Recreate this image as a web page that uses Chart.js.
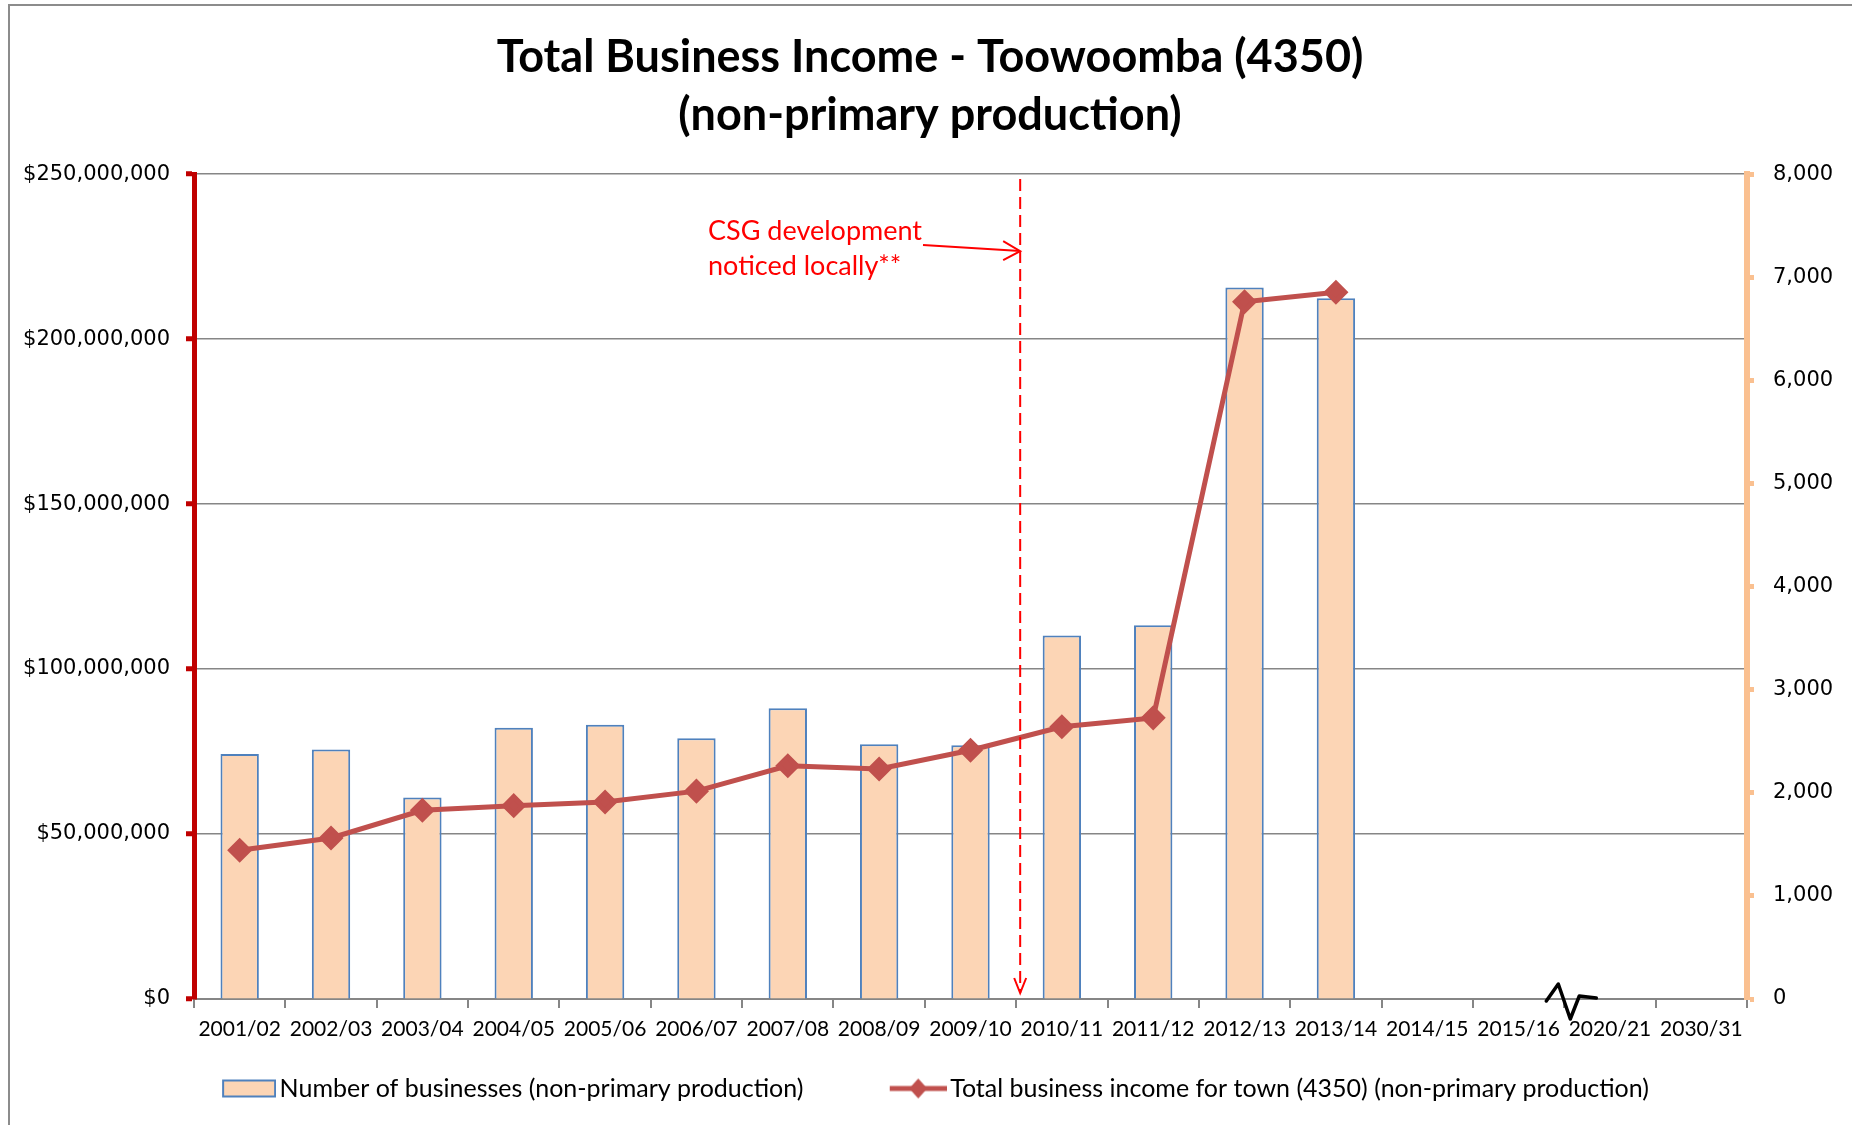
<!DOCTYPE html>
<html>
<head>
<meta charset="utf-8">
<title>Total Business Income - Toowoomba (4350)</title>
<script src="https://cdn.jsdelivr.net/npm/chart.js@4"></script>
<style>
  html, body { margin: 0; padding: 0; background: #fff; }
  #wrap { width: 1852px; height: 1125px; }
</style>
</head>
<body>
<div id="wrap"><canvas id="chart"></canvas></div>
<script>
const years = ['2001/02', '2002/03', '2003/04', '2004/05', '2005/06', '2006/07', '2007/08', '2008/09',
  '2009/10', '2010/11', '2011/12', '2012/13', '2013/14', '2014/15', '2015/16', '2020/21', '2030/31']

// number of businesses (right axis)
const businesses = [2375, 2420, 1955, 2630, 2660, 2530, 2820, 2470, 2460, 3525, 3625, 6900, 6795,
  null, null, null, null]

// total business income in dollars (left axis)
const income = [45100000, 48800000, 57200000, 58600000, 59700000, 63000000, 70700000, 69700000,
  75400000, 82500000, 85200000, 211300000, 214200000, null, null, null, null]

const incomeTicks = [0, 50000000, 100000000, 150000000, 200000000, 250000000]
const countTicks = [0, 1000, 2000, 3000, 4000, 5000, 6000, 7000, 8000]

const titleLines = ['Total Business Income - Toowoomba (4350)', '(non-primary production)']
const noteLines = ['CSG development', 'noticed locally**']

const ctx = document.querySelector('#chart')

// legend icons, drawn on the right side of a wider canvas so they sit close to the text
function barIcon() {
    const c = document.createElement('canvas')
    c.width = 74
    c.height = 20
    const g = c.getContext('2d')
    g.fillStyle = '#FCD5B5'
    g.fillRect(21, 2, 52, 16)
    g.strokeStyle = '#4F81BD'
    g.lineWidth = 2
    g.strokeRect(21, 2, 52, 16)
    return c
}

function lineIcon() {
    const c = document.createElement('canvas')
    c.width = 74
    c.height = 22
    const g = c.getContext('2d')
    g.strokeStyle = '#C0504D'
    g.lineWidth = 5
    g.beginPath()
    g.moveTo(17, 11)
    g.lineTo(74, 11)
    g.stroke()
    g.fillStyle = '#C0504D'
    g.beginPath()
    g.moveTo(45.5, 1)
    g.lineTo(54.5, 11)
    g.lineTo(45.5, 21)
    g.lineTo(36.5, 11)
    g.closePath()
    g.fill()
    return c
}

const icons = [barIcon(), lineIcon()]

const extras = {
    id: 'extras',
    beforeDraw(chart) {
        const c = chart.ctx
        c.save()
        c.strokeStyle = '#8c8c8c'
        c.lineWidth = 2
        c.strokeRect(9, 5, 2000, 2000)
        c.restore()
    },
    afterDatasetsDraw(chart) {
        const c = chart.ctx
        const x = chart.scales.x
        const area = chart.chartArea
        const lineX = (x.getPixelForValue(8) + x.getPixelForValue(9)) / 2 + 4
        const tipY = area.bottom - 6

        c.save()
        // dashed marker line with arrow at the bottom
        c.strokeStyle = '#FF0000'
        c.lineWidth = 2
        c.setLineDash([12, 6])
        c.beginPath()
        c.moveTo(lineX, area.top + 5)
        c.lineTo(lineX, tipY)
        c.stroke()
        c.setLineDash([])
        c.beginPath()
        c.moveTo(lineX - 6, tipY - 15)
        c.lineTo(lineX, tipY)
        c.lineTo(lineX + 6, tipY - 15)
        c.stroke()

        // note text and pointer
        c.fillStyle = '#FF0000'
        c.font = '27px Lato'
        c.textBaseline = 'alphabetic'
        c.textAlign = 'left'
        c.fillText(noteLines[0], 708, 240)
        c.fillText(noteLines[1], 708, 275)
        const ay = area.top + 77
        c.beginPath()
        c.moveTo(923, 245)
        c.lineTo(lineX, ay)
        c.stroke()
        c.beginPath()
        c.moveTo(lineX - 17, ay - 10)
        c.lineTo(lineX, ay)
        c.lineTo(lineX - 17, ay + 9)
        c.stroke()

        // axis break mark
        const bx = (x.getPixelForValue(14) + x.getPixelForValue(15)) / 2
        const by = area.bottom
        c.strokeStyle = '#000'
        c.lineWidth = 3.5
        c.lineJoin = 'round'
        c.lineCap = 'round'
        c.beginPath()
        c.moveTo(bx - 18, by + 2)
        c.lineTo(bx - 6, by - 15)
        c.lineTo(bx + 6, by + 20)
        c.lineTo(bx + 15, by - 3)
        c.lineTo(bx + 32, by - 1)
        c.stroke()
        c.restore()
    }
}

const data = {
    labels: years,
    datasets: [{
        type: 'bar',
        label: 'Number of businesses (non-primary production)',
        data: businesses,
        yAxisID: 'yRight',
        backgroundColor: '#FCD5B5',
        borderColor: '#4F81BD',
        borderWidth: 2,
        barPercentage: 0.42,
        categoryPercentage: 1,
        order: 2
    }, {
        type: 'line',
        label: 'Total business income for town (4350) (non-primary production)',
        data: income,
        yAxisID: 'y',
        borderColor: '#C0504D',
        borderWidth: 5,
        pointStyle: 'rectRot',
        pointRadius: 9,
        pointHoverRadius: 9,
        pointBackgroundColor: '#C0504D',
        pointBorderColor: '#C0504D',
        tension: 0,
        order: 1
    }]
}

const config = {
    data: data,
    plugins: [extras],
    options: {
        responsive: true,
        maintainAspectRatio: false,
        animation: false,
        layout: {
            padding: { left: 8, right: 0, top: 0, bottom: 14 }
        },
        scales: {
            x: {
                afterFit: scale => {
                    scale.height = 55
                },
                grid: {
                    offset: true,
                    drawOnChartArea: false,
                    color: '#868686',
                    lineWidth: 2,
                    tickLength: 9
                },
                border: { color: '#868686', width: 2 },
                ticks: {
                    color: '#000',
                    font: { family: 'Lato', size: 21 },
                    padding: 9,
                    maxRotation: 0,
                    autoSkip: false
                }
            },
            y: {
                position: 'left',
                min: 0,
                max: 250000000,
                afterBuildTicks: scale => {
                    scale.ticks = incomeTicks.map(v => ({ value: v }))
                },
                afterFit: scale => {
                    scale.width = 186
                },
                grid: {
                    color: '#868686',
                    lineWidth: 1.5,
                    tickColor: '#C00000',
                    tickWidth: 5,
                    tickLength: 8
                },
                border: { color: '#C00000', width: 5 },
                ticks: {
                    color: '#000',
                    font: { family: 'DejaVu Sans', size: 21 },
                    padding: 16,
                    callback: v => '$' + v.toLocaleString('en-US')
                }
            },
            yRight: {
                position: 'right',
                min: 0,
                max: 8000,
                afterBuildTicks: scale => {
                    scale.ticks = countTicks.map(v => ({ value: v }))
                },
                afterFit: scale => {
                    scale.width = 105
                },
                grid: {
                    drawOnChartArea: false,
                    tickColor: '#FAC090',
                    tickWidth: 5,
                    tickLength: 7
                },
                border: { color: '#FAC090', width: 6 },
                ticks: {
                    color: '#000',
                    font: { family: 'DejaVu Sans', size: 21 },
                    padding: 19,
                    callback: v => v.toLocaleString('en-US')
                }
            }
        },
        plugins: {
            title: {
                display: true,
                text: titleLines,
                color: '#000',
                font: { family: 'Lato', size: 45, weight: 'bold', lineHeight: 1.29 },
                padding: { top: 28, bottom: 30 }
            },
            legend: {
                position: 'bottom',
                labels: {
                    color: '#000',
                    font: { family: 'Lato', size: 25 },
                    usePointStyle: true,
                    pointStyleWidth: 56,
                    padding: 22,
                    generateLabels: chart => {
                        return chart.data.datasets.map((ds, i) => ({
                            // wider gap after the first entry
                            text: i === 0 ? ds.label + '\u2003\u2003\u2003' : ds.label,
                            pointStyle: icons[i],
                            fillStyle: 'transparent',
                            strokeStyle: 'transparent',
                            lineWidth: 0,
                            fontColor: '#000',
                            hidden: false,
                            datasetIndex: i
                        }))
                    }
                }
            },
            tooltip: { enabled: false }
        }
    }
}

new Chart(ctx, config)
</script>
</body>
</html>
